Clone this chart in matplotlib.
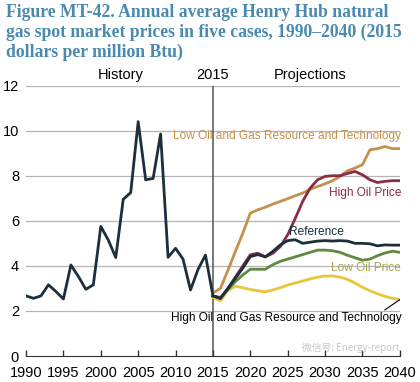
import matplotlib
matplotlib.use("Agg")
import matplotlib.pyplot as plt

plt.rcParams["font.family"] = ["Liberation Sans", "DejaVu Sans"]

# historical Henry Hub prices (2015 $/MMBtu)
hist_years = list(range(1990, 2016))
hist_prices = [2.67, 2.56, 2.67, 3.16, 2.86, 2.53, 4.04, 3.53, 2.96, 3.16,
               5.75, 5.15, 4.37, 6.95, 7.25, 10.4, 7.82, 7.88, 9.85, 4.38,
               4.78, 4.3, 2.93, 3.84, 4.48, 2.67]

proj_years = list(range(2015, 2041))
reference = [2.67, 2.56, 3.0, 3.45, 3.9, 4.41, 4.5, 4.4, 4.64, 4.93,
             5.12, 5.16, 5.0, 5.05, 5.1, 5.12, 5.1, 5.12, 5.1, 5.0,
             5.0, 4.98, 4.89, 4.93, 4.92, 4.92]
low_oil = [2.67, 2.6, 2.95, 3.3, 3.6, 3.85, 3.85, 3.85, 4.05, 4.2,
           4.3, 4.4, 4.5, 4.6, 4.7, 4.7, 4.67, 4.6, 4.47, 4.36,
           4.25, 4.3, 4.45, 4.57, 4.65, 4.6]
high_oil = [2.67, 2.55, 3.0, 3.5, 4.0, 4.49, 4.56, 4.4, 4.56, 4.85,
            5.38, 6.1, 6.86, 7.45, 7.82, 7.97, 8.0, 8.0, 8.1, 8.19,
            8.04, 7.82, 7.7, 7.75, 7.78, 7.78]
low_res = [2.8, 3.0, 3.8, 4.64, 5.45, 6.34, 6.49, 6.6, 6.74, 6.86,
           6.98, 7.11, 7.23, 7.4, 7.52, 7.64, 7.78, 7.97, 8.22, 8.34,
           8.49, 9.15, 9.2, 9.3, 9.2, 9.2]
high_res = [2.6, 2.45, 2.9, 3.1, 3.03, 2.95, 2.9, 2.85, 2.93, 3.03,
            3.15, 3.24, 3.33, 3.42, 3.5, 3.55, 3.55, 3.5, 3.4, 3.24,
            3.05, 2.9, 2.76, 2.65, 2.56, 2.5]

navy = "#1c2f3c"
tan = "#c4904e"
maroon = "#8a2c44"
green = "#5f8a3e"
yellow = "#e8c63c"

fig = plt.figure(figsize=(4.2, 3.82), dpi=100)
ax = fig.add_axes([0.062, 0.068, 0.890, 0.708])

for y in range(2, 13, 2):
    ax.axhline(y, color="#b4b4b4", lw=0.9, zorder=0)
ax.axvline(2015, color="#555555", lw=1.1, zorder=1)

ax.plot(proj_years, high_res, color=yellow, lw=2.0)
ax.plot(proj_years, low_oil, color=green, lw=2.0)
ax.plot(proj_years, low_res, color=tan, lw=2.0)
ax.plot(proj_years, high_oil, color=maroon, lw=2.0)
ax.plot(proj_years, reference, color=navy, lw=2.0)
ax.plot(hist_years, hist_prices, color=navy, lw=2.0)

ax.set_xlim(1990, 2040)
ax.set_ylim(0, 12)
ax.set_xticks(range(1990, 2041, 5))
ax.set_yticks(range(0, 13, 2))
ax.tick_params(axis="x", direction="in", length=4, width=1, color="#333333",
               labelsize=10.5, pad=7)
ax.tick_params(axis="y", length=0, labelsize=10.5, pad=5)
for s in ["top", "right", "left"]:
    ax.spines[s].set_visible(False)
ax.spines["bottom"].set_color("#333333")

fs = 8.6
ax.text(2040.2, 9.75, "Low Oil and Gas Resource and Technology", color=tan,
        fontsize=fs, ha="right", va="center")
ax.text(2040.2, 7.25, "High Oil Price", color=maroon, fontsize=fs,
        ha="right", va="center")
ax.text(2028.8, 5.5, "Reference", color=navy, fontsize=fs,
        ha="center", va="center")
ax.text(2040.2, 3.9, "Low Oil Price", color="#a7a64e", fontsize=fs,
        ha="right", va="center")
ax.text(2040.2, 1.7, "High Oil and Gas Resource and Technology", color="black",
        fontsize=fs, ha="right", va="center")
ax.plot([2038.0, 2040], [2.05, 2.5], color="black", lw=0.8)

ax.text(2002.6, 12.15, "History", fontsize=10.5, ha="center", va="bottom")
ax.text(2015, 12.15, "2015", fontsize=10.5, ha="center", va="bottom")
ax.text(2028, 12.15, "Projections", fontsize=10.5, ha="center", va="bottom")

fig.text(0.015, 0.99,
         "Figure MT-42. Annual average Henry Hub natural\n"
         "gas spot market prices in five cases, 1990\u20132040 (2015\n"
         "dollars per million Btu)",
         family="Liberation Serif", fontweight="bold", fontsize=12.7,
         color="#4a8ab0", ha="left", va="top", linespacing=1.2)

fig.text(0.835, 0.088, "\u5fae\u4fe1\u53f7: Energy-report", fontsize=7,
         color="#c8c8c8", family=["Noto Sans CJK SC", "DejaVu Sans"],
         ha="center", va="center")

fig.savefig("out.png", dpi=100)
